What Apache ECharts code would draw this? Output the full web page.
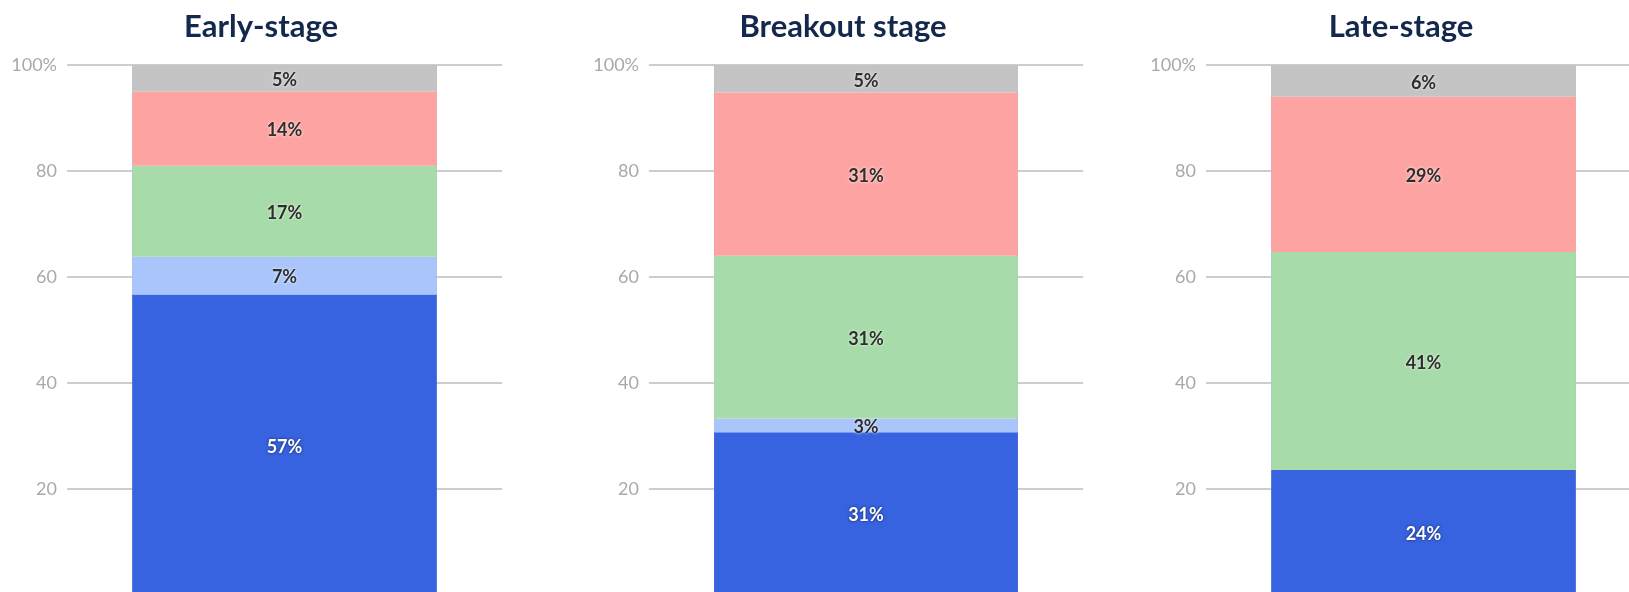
<!DOCTYPE html>
<html>
<head>
<meta charset="utf-8">
<script src="https://cdn.jsdelivr.net/npm/echarts@6/dist/echarts.min.js"></script>
<style>
  html, body { margin: 0; padding: 0; background: #fff; }
  #chart { width: 1629px; height: 592px; }
</style>
</head>
<body>
<div id="chart"></div>
<script>
// Funding stages, one stacked 100% column per panel
const stages = ['Early-stage', 'Breakout stage', 'Late-stage'];

// Share of each segment per stage (percent, bottom to top)
const blueVals      = [56.7, 30.7, 23.6];
const lightBlueVals = [7.1, 2.6, 0];
const greenVals     = [17.2, 30.7, 41.1];
const redVals       = [14.0, 30.8, 29.3];
const grayVals      = [5.0, 5.2, 6.0];

// Y axis ticks
const yTicks = [0, 20, 40, 60, 80, 100];

const segments = [
  { key: 'blue',      values: blueVals,      color: '#3762e0', text: '#ffffff', shadow: 'rgba(0,0,0,0.6)' },
  { key: 'lightBlue', values: lightBlueVals, color: '#a9c5fb', text: '#2e2e2e', shadow: 'rgba(255,255,255,0.9)' },
  { key: 'green',     values: greenVals,     color: '#a7dba9', text: '#2e2e2e', shadow: 'rgba(255,255,255,0.9)' },
  { key: 'red',       values: redVals,       color: '#fda4a2', text: '#2e2e2e', shadow: 'rgba(255,255,255,0.9)' },
  { key: 'gray',      values: grayVals,      color: '#c4c4c4', text: '#2e2e2e', shadow: 'rgba(255,255,255,0.9)' }
];

// Panel geometry
const panels = [
  { left: 67,   width: 435, titleX: 256 },
  { left: 649,  width: 434, titleX: 838 },
  { left: 1206, width: 435, titleX: 1396 }
];
const gridTop = 65;
const gridHeight = 530;

const chart = echarts.init(document.getElementById('chart'), null, { renderer: 'canvas' });

const grid = [], xAxis = [], yAxis = [], series = [], title = [];

panels.forEach((p, i) => {
  grid.push({
    left: p.left, top: gridTop, width: p.width, height: gridHeight,
    containLabel: false, outerBoundsMode: 'none'
  });
  title.push({
    text: stages[i],
    left: p.titleX,
    top: 6,
    textAlign: 'center',
    textStyle: { fontFamily: 'Lato', fontWeight: 'bold', fontSize: 31, color: '#13284c' }
  });
  xAxis.push({
    type: 'category',
    gridIndex: i,
    data: [stages[i]],
    show: false
  });
  yAxis.push({
    type: 'value',
    gridIndex: i,
    min: yTicks[0],
    max: yTicks[yTicks.length - 1],
    interval: 20,
    axisLine: { show: false },
    axisTick: { show: false },
    splitLine: { show: true, lineStyle: { color: '#cdcdcd', width: 2 } },
    axisLabel: {
      margin: 10,
      color: '#a9a9a9',
      fontFamily: 'Lato',
      fontSize: 18,
      formatter: v => (v === 100 ? '100%' : (v === 0 ? '' : String(v)))
    }
  });

  segments.forEach(s => {
    series.push({
      type: 'bar',
      name: s.key,
      xAxisIndex: i,
      yAxisIndex: i,
      stack: 'total' + i,
      barWidth: '70%',
      data: [s.values[i]],
      itemStyle: { color: s.color },
      label: {
        show: true,
        position: 'inside',
        offset: [0, 2],
        formatter: d => (d.value > 0 ? Math.round(d.value) + '%' : ''),
        color: s.text,
        fontFamily: 'Lato',
        fontWeight: 'bold',
        fontSize: 18,
        textShadowColor: s.shadow,
        textShadowBlur: 3
      },
      emphasis: { disabled: true },
      z: 2
    });
  });

  // Thin outline around the full column
  const total = segments.reduce((acc, s) => acc + s.values[i], 0);
  series.push({
    type: 'bar',
    name: 'outline',
    xAxisIndex: i,
    yAxisIndex: i,
    barWidth: '70%',
    barGap: '-100%',
    data: [total],
    itemStyle: { color: 'rgba(0,0,0,0)', borderColor: '#a8a8a8', borderWidth: 1 },
    label: { show: false },
    silent: true,
    z: 1
  });
});

chart.setOption({
  animation: false,
  backgroundColor: '#ffffff',
  title,
  grid,
  xAxis,
  yAxis,
  series
});
</script>
</body>
</html>
